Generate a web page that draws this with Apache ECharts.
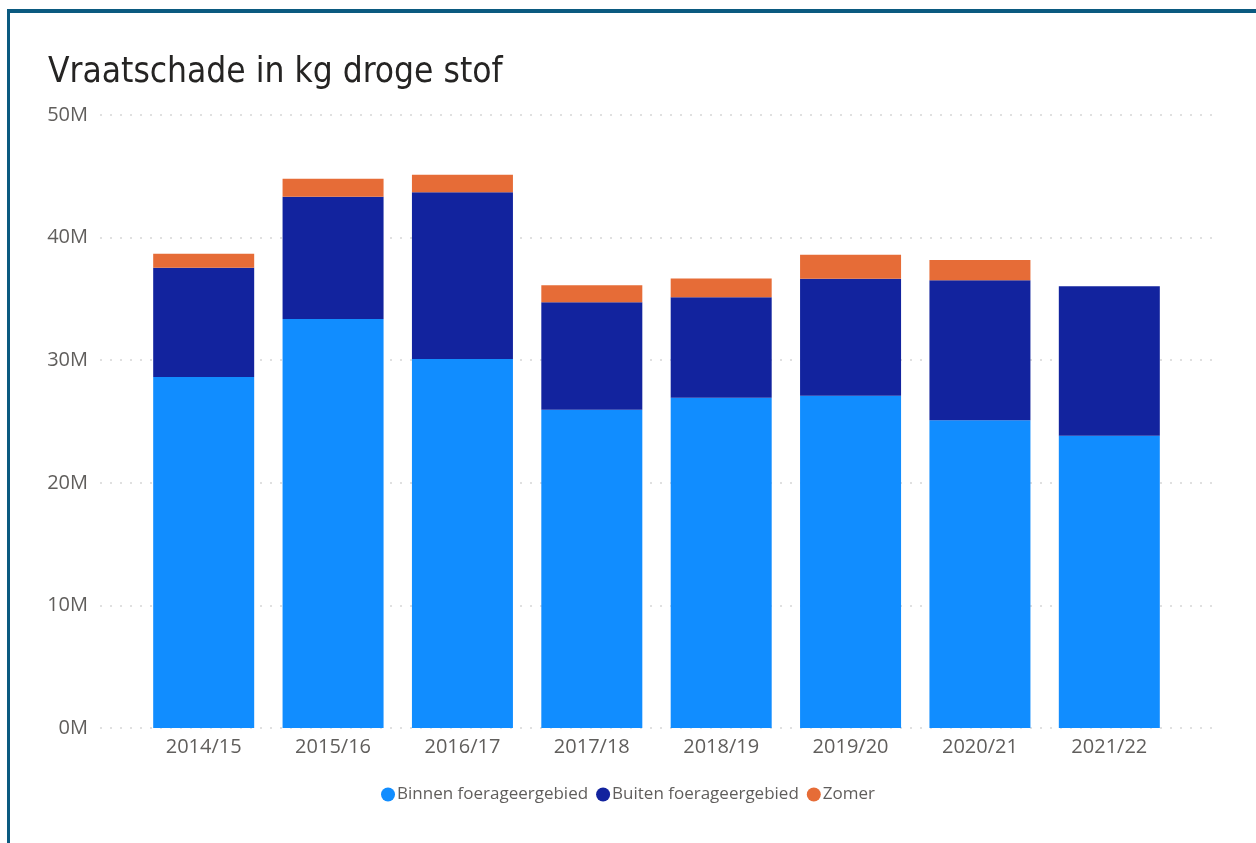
<!DOCTYPE html>
<html>
<head>
<meta charset="utf-8">
<script src="https://cdn.jsdelivr.net/npm/echarts@6/dist/echarts.min.js"></script>
<style>
html,body{margin:0;padding:0;background:#fff;}
#chart{width:1256px;height:843px;position:absolute;left:0;top:0;}
#frame{position:absolute;left:7px;top:9px;width:1400px;height:1000px;border:3px solid #0b5a80;border-top-width:4px;pointer-events:none;}
</style>
</head>
<body>
<div id="chart"></div>
<div id="frame"></div>
<script>
const categories = ['2014/15','2015/16','2016/17','2017/18','2018/19','2019/20','2020/21','2021/22'];
const binnen = [28.63e6, 33.36e6, 30.10e6, 25.96e6, 26.94e6, 27.10e6, 25.10e6, 23.84e6];
const buiten = [8.92e6, 9.98e6, 13.59e6, 8.76e6, 8.19e6, 9.55e6, 11.42e6, 12.19e6];
const zomer = [1.14e6, 1.46e6, 1.44e6, 1.39e6, 1.54e6, 1.95e6, 1.65e6, 0];
const yTicks = [0, 10e6, 20e6, 30e6, 40e6, 50e6];

const chart = echarts.init(document.getElementById('chart'), null, {renderer:'canvas'});
const labelFont = '"Open Sans", "Noto Sans", sans-serif';
const yMax = yTicks[yTicks.length-1];
const yInt = yTicks[1]-yTicks[0];
chart.setOption({
  animation:false,
  title:{
    text:'Vraatschade in kg droge stof',
    left:43, top:50,
    textStyle:{fontFamily:'"DejaVu Sans Condensed","Roboto",sans-serif', fontSize:35, fontWeight:'normal', color:'#252423'}
  },
  legend:{
    data:['Binnen foerageergebied','Buiten foerageergebied','Zomer'],
    left:'center', top:781,
    icon:'circle', itemWidth:14, itemHeight:14, itemGap:8,
    textStyle:{fontFamily:labelFont, fontSize:17, color:'#605E5C', padding:[0,0,0,-3]}
  },
  grid:[
    {left:100, right:44, top:115, bottom:115},
    {left:139, right:82, top:115, bottom:115}
  ],
  xAxis:[
    {type:'category', gridIndex:0, data:categories, show:false},
    {type:'category', gridIndex:1, data:categories,
     axisLine:{show:false}, axisTick:{show:false},
     axisLabel:{fontFamily:labelFont, fontSize:20, color:'#605E5C', margin:9}}
  ],
  yAxis:[
    {type:'value', gridIndex:0, min:0, max:yMax, interval:yInt,
     axisLine:{show:false}, axisTick:{show:false},
     axisLabel:{fontFamily:labelFont, fontSize:20, color:'#605E5C', margin:12,
       formatter:v=>(v/1e6)+'M'},
     splitLine:{lineStyle:{color:'#d6d6d6', type:[2,8], width:1.5}}},
    {type:'value', gridIndex:1, min:0, max:yMax, interval:yInt, show:false, splitLine:{show:false}}
  ],
  series:[
    {name:'Binnen foerageergebied', type:'bar', stack:'a', xAxisIndex:1, yAxisIndex:1, data:binnen, barWidth:101, itemStyle:{color:'#118DFF'}},
    {name:'Buiten foerageergebied', type:'bar', stack:'a', xAxisIndex:1, yAxisIndex:1, data:buiten, barWidth:101, itemStyle:{color:'#12239E'}},
    {name:'Zomer', type:'bar', stack:'a', xAxisIndex:1, yAxisIndex:1, data:zomer, barWidth:101, itemStyle:{color:'#E66C37'}}
  ]
});
</script>
</body>
</html>
